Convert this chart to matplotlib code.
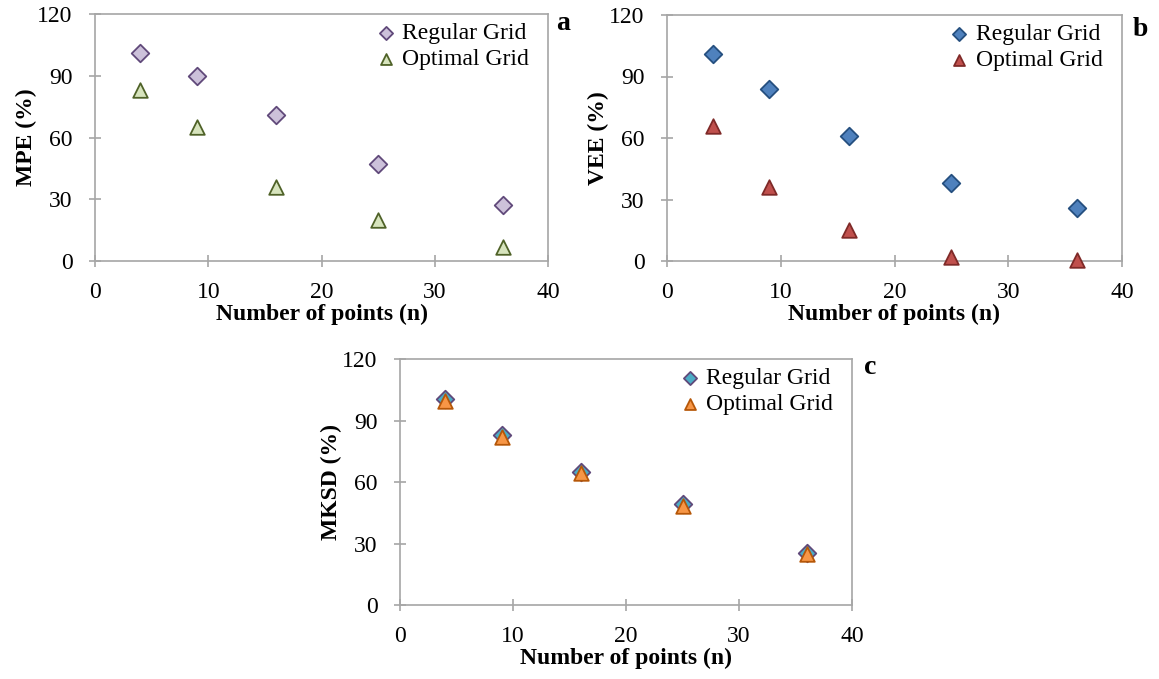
import matplotlib
matplotlib.use('Agg')
import matplotlib.pyplot as plt

plt.rcParams['font.family'] = ['Liberation Serif', 'DejaVu Serif']

n_points = [4, 9, 16, 25, 36]

mpe_regular = [101, 90, 71, 47, 27]
mpe_optimal = [83, 65, 36, 20, 7]

vee_regular = [101, 84, 61, 38, 26]
vee_optimal = [66, 36, 15, 2, 0.5]

mksd_regular = [100.5, 83, 65, 49.5, 25.5]
mksd_optimal = [99.5, 82, 64.5, 48.5, 25]

W, H = 1159, 679

def make_axes(fig, left, top, right, bottom):
	return fig.add_axes([left/W, 1-bottom/H, (right-left)/W, (bottom-top)/H])

def style_axes(ax, ylabel):
	ax.set_xlim(0, 40)
	ax.set_ylim(0, 120)
	ax.set_xticks([0, 10, 20, 30, 40])
	ax.set_yticks([0, 30, 60, 90, 120])
	for s in ax.spines.values():
		s.set_color('#a6a6a6')
		s.set_linewidth(1.2)
	ax.tick_params(direction='inout', length=8, width=1.2, color='#a6a6a6', labelsize=17)
	ax.tick_params(axis='x', pad=11)
	ax.tick_params(axis='y', pad=12)
	ax.set_xlabel('Number of points (n)', fontsize=17, fontweight='bold', labelpad=1)
	ax.set_ylabel(ylabel, fontsize=17, fontweight='bold', labelpad=0)

def draw_panel(ax, reg, opt, reg_face, reg_edge, opt_face, opt_edge, ylabel):
	ax.scatter(n_points, reg, marker='D', s=80, facecolor=reg_face, edgecolor=reg_edge, linewidth=1.3, label='Regular Grid', zorder=3)
	ax.scatter(n_points, opt, marker='^', s=110, facecolor=opt_face, edgecolor=opt_edge, linewidth=1.3, label='Optimal Grid', zorder=3, clip_on=False)
	style_axes(ax, ylabel)
	ax.legend(loc='upper right', bbox_to_anchor=(0.971, 0.99), frameon=False, fontsize=17, handletextpad=-0.3, borderpad=0.1, labelspacing=0.2, borderaxespad=0.15, markerscale=0.75)

fig = plt.figure(figsize=(W/100, H/100), dpi=100)

ax_a = make_axes(fig, 95, 14, 548, 261)
draw_panel(ax_a, mpe_regular, mpe_optimal, '#ccc1da', '#60497a', '#d7e4bd', '#4f6228', 'MPE (%)')
fig.text(563/W, 1-24/H, 'a', fontsize=20, fontweight='bold', va='center', ha='center')

ax_b = make_axes(fig, 667, 15, 1122, 261)
draw_panel(ax_b, vee_regular, vee_optimal, '#4f81bd', '#254f7f', '#c0504d', '#7f2a28', 'VEE (%)')
fig.text(1140/W, 1-30/H, 'b', fontsize=20, fontweight='bold', va='center', ha='center')

ax_c = make_axes(fig, 400, 359, 852, 605)
draw_panel(ax_c, mksd_regular, mksd_optimal, '#4bacc6', '#60497a', '#f79646', '#b65708', 'MKSD (%)')
fig.text(870/W, 1-368/H, 'c', fontsize=20, fontweight='bold', va='center', ha='center')

fig.savefig('out.png', dpi=100)
